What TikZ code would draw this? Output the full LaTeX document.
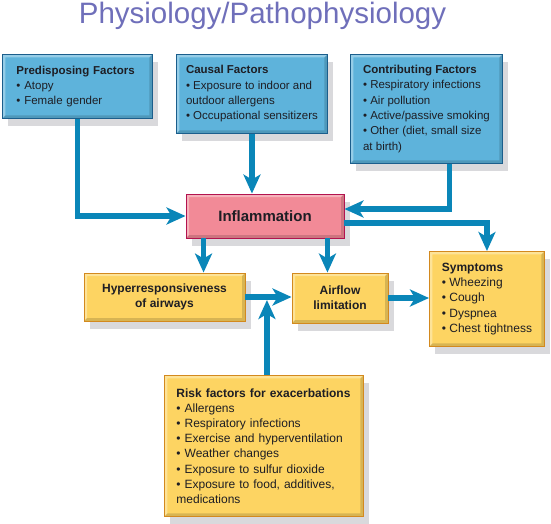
\documentclass[tikz,border=0pt]{standalone}
\usepackage{fontspec}
\setmainfont{Liberation Sans}
\usetikzlibrary{arrows.meta,shadows}
\definecolor{bluefill}{HTML}{5EB3DB}
\definecolor{blueline}{HTML}{1B5E8C}
\definecolor{flowblue}{HTML}{0A86B8}
\definecolor{pinkfill}{HTML}{F28A97}
\definecolor{pinkline}{HTML}{B3134F}
\definecolor{yellowfill}{HTML}{FDD462}
\definecolor{yellowline}{HTML}{D3891E}
\definecolor{shadowgray}{HTML}{D9D9DC}
\definecolor{titleblue}{HTML}{6F6FBA}
\definecolor{textdark}{HTML}{1E1E24}
\tikzset{
  bevelled/.style={path picture={
    \fill[white,opacity=.35] (path picture bounding box.south west) -- (path picture bounding box.north west)
      -- (path picture bounding box.north east) -- ([xshift=-3pt,yshift=-3pt]path picture bounding box.north east)
      -- ([xshift=3pt,yshift=-3pt]path picture bounding box.north west) -- ([xshift=3pt,yshift=3pt]path picture bounding box.south west) -- cycle;
    \fill[black,opacity=.15] (path picture bounding box.south west) -- (path picture bounding box.south east)
      -- (path picture bounding box.north east) -- ([xshift=-3pt,yshift=-3pt]path picture bounding box.north east)
      -- ([xshift=-3pt,yshift=3pt]path picture bounding box.south east) -- ([xshift=3pt,yshift=3pt]path picture bounding box.south west) -- cycle;
  }},
  boxshadow/.style={drop shadow={shadow xshift=6pt,shadow yshift=-8pt,fill=shadowgray,opacity=1}},
  bluebox/.style={boxshadow, bevelled, draw=blueline, fill=bluefill, line width=0.9pt, inner ysep=3pt,
    anchor=north west, align=left, text=textdark, font=\fontsize{11.5}{15.3}\selectfont},
  pinkbox/.style={boxshadow, bevelled, draw=pinkline, fill=pinkfill, line width=0.9pt,
    text=textdark, font=\fontsize{15}{18}\selectfont\bfseries},
  yellowbox/.style={boxshadow, bevelled, draw=yellowline, fill=yellowfill, line width=0.9pt, inner ysep=3pt,
    text=textdark, font=\fontsize{12}{15.2}\selectfont},
  flow/.style={draw=flowblue, line width=5.5pt, -{Stealth[length=19pt,width=17pt,inset=5pt]}},
  title/.style={anchor=base, text=titleblue, font=\fontsize{29.5}{32}\selectfont}
}
\begin{document}
\begin{tikzpicture}[x=1pt,y=-1pt]
\useasboundingbox (0,0) rectangle (551,523);
\node[title](title) at (262.5,23) {Physiology/Pathophysiology};
%
\node[bluebox, text width=122pt, inner xsep=14pt, minimum width=150pt, minimum height=64pt](pre) at (2,54)
  {\textbf{Predisposing Factors}\\\textbullet\ Atopy\\\textbullet\ Female gender};
\node[bluebox, minimum width=151pt, minimum height=79pt](cau) at (176,54)
  {\textbf{Causal Factors}\\\textbullet\ Exposure to indoor and\\outdoor allergens\\\textbullet\ Occupational sensitizers};
\node[bluebox, minimum width=152pt, minimum height=109pt](con) at (350,54)
  {\textbf{Contributing Factors}\\\textbullet\ Respiratory infections\\\textbullet\ Air pollution\\\textbullet\ Active/passive smoking\\\textbullet\ Other (diet, small size\\at birth)};
%
\node[pinkbox, minimum width=158pt, minimum height=44pt](inf) at (265,216) {Inflammation};
\draw[flow](pre.south) |- (inf.west);
\draw[flow](cau.south) -- (cau.south |- inf.north);
\draw[flow]([xshift=23pt]con.south) |- ([yshift=7pt]inf.east);
%
\node[yellowbox, align=center, font=\fontsize{12}{15.2}\selectfont\bfseries, minimum width=161pt, minimum height=48pt](hyp) at (164.5,297)
  {Hyperresponsiveness\\of airways};
\node[yellowbox, align=center, font=\fontsize{12}{15.2}\selectfont\bfseries, minimum width=96pt, minimum height=50pt](air) at (340,298)
  {Airflow\\limitation};
\node[yellowbox, anchor=north west, align=left, minimum width=115pt, minimum height=95pt](sym) at (429,251)
  {\textbf{Symptoms}\\\textbullet\ Wheezing\\\textbullet\ Cough\\\textbullet\ Dyspnea\\\textbullet\ Chest tightness};
\draw[flow]([xshift=18pt]inf.south west) -- ([xshift=18pt]inf.south west |- hyp.north);
\draw[flow]([xshift=-17pt]inf.south east) -- ([xshift=-17pt]inf.south east |- air.north);
\draw[flow]([yshift=-7pt]inf.east) -| (sym.north);
\draw[flow](hyp.east) -- (hyp.east -| air.west);
\draw[flow](air.east) -- (air.east -| sym.west);
%
\node[yellowbox, anchor=north west, align=left, text width=175pt, inner xsep=12pt, minimum width=199pt, minimum height=141pt](risk) at (164,375)
  {\textbf{Risk factors for exacerbations}\\\textbullet\ Allergens\\\textbullet\ Respiratory infections\\\textbullet\ Exercise and hyperventilation\\\textbullet\ Weather changes\\\textbullet\ Exposure to sulfur dioxide\\\textbullet\ Exposure to food, additives,\\medications};
\draw[flow]([xshift=3pt]risk.north) -- ([xshift=3pt,yshift=-3pt]risk.north |- hyp.east);
\end{tikzpicture}
\end{document}
